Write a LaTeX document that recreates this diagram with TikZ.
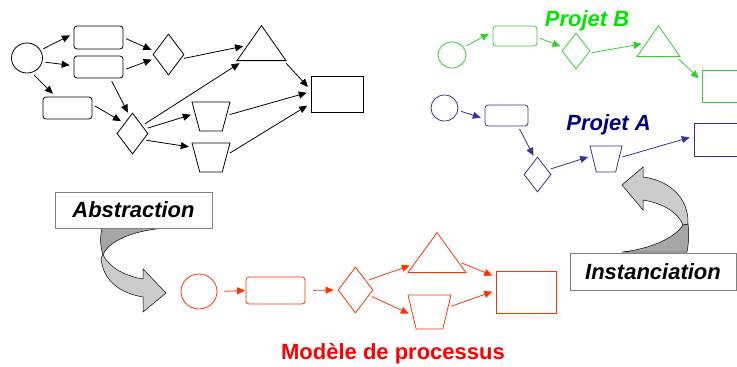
\documentclass[tikz,border=0pt]{standalone}
\usepackage{fontspec}
\setmainfont{Liberation Sans}
\usepackage{tikz}
\usetikzlibrary{shapes.geometric, arrows.meta}

\definecolor{projB}{HTML}{33CC33}
\definecolor{projBtxt}{HTML}{00E600}
\definecolor{projA}{HTML}{333399}
\definecolor{projAtxt}{HTML}{000080}
\definecolor{modele}{HTML}{FF3300}
\definecolor{modeletxt}{HTML}{FF0000}
\definecolor{lightgray}{HTML}{CCCCCC}
\definecolor{darkgray}{HTML}{A6A6A6}

\begin{document}
\begin{tikzpicture}[x=1pt, y=-1pt, line width=0.8pt,
  >={Triangle[length=8pt,width=7pt]},
  flow/.style={->, shorten <=3pt, shorten >=4pt},
  ell/.style={draw, ellipse, inner sep=0.5pt},
  rbox/.style={draw, rectangle, rounded corners=3pt, inner sep=0.5pt},
  sbox/.style={draw, rectangle, inner sep=0.5pt},
  dia/.style={draw, diamond, inner sep=0.5pt},
  tri/.style={draw, isosceles triangle, shape border rotate=90, isosceles triangle stretches, inner sep=0.5pt, anchor=lower side},
  trap/.style={draw, trapezium, shape border rotate=180, trapezium stretches=true, inner sep=0.5pt},
  lbl/.style={font=\fontsize{22}{26}\selectfont\bfseries\itshape},
  tag/.style={draw=gray, fill=white, line width=0.6pt, lbl}]

\useasboundingbox (0,0) rectangle (737,367);
\clip (0,0) rectangle (737,367);

% process in general
\node [ell, minimum width=31, minimum height=30] (A0) at (27,58) {};
\node [rbox, minimum width=49, minimum height=23] (A1) at (98.5,37.5) {};
\node [rbox, minimum width=49, minimum height=22] (A2) at (98.5,67) {};
\node [rbox, minimum width=49, minimum height=22] (A3) at (67.5,108) {};
\node [dia, minimum width=31, minimum height=41] (A4) at (168.5,54.5) {};
\node [dia, minimum width=31, minimum height=41] (A5) at (132.5,133.5) {};
\node [tri, minimum width=49, minimum height=35] (A6) at (261.5,61) {};
\node [trap, trapezium left angle=71, trapezium right angle=71, minimum width=38, minimum height=29] (A7) at (211,116.5) {};
\node [trap, trapezium left angle=71, trapezium right angle=71, minimum width=38, minimum height=29] (A8) at (211,157.5) {};
\node [sbox, minimum width=52, minimum height=36] (A9) at (337,94) {};

\draw (A0.30) edge[flow] (A1.171);
\draw (A0.-14) edge[flow] (A2.177);
\draw (A0.-72) edge[flow] (A3.136);
\draw (A1.east) edge[flow] (A4.167);
\draw (A2.-7) edge[flow] (A4.196);
\draw (A2.-44) edge[flow] (A5.99);
\draw (A3.8) edge[flow] (A5.128);
\draw (A4.-20) edge[flow] (A6.170);
\draw (A5.39) edge[flow] (A6.215);
\draw (A5.20) edge[flow] (A7.170);
\draw (A5.-30) edge[flow] (A8.151);
\draw (A6.-30) edge[flow] (A9.171);
\draw (A7.4) edge[flow] (A9.175);
\draw (A8.10) edge[flow] (A9.200);

% Projet B
\begin{scope}[color=projB, every node/.append style={draw=projB}]
\node [ell, minimum width=28, minimum height=26] (B0) at (452,55) {};
\node [rbox, minimum width=44, minimum height=20] (B1) at (515,36) {};
\node [dia, minimum width=28, minimum height=36] (B2) at (576,51) {};
\node [tri, minimum width=43, minimum height=31] (B3) at (658.5,57) {};
\node [sbox, minimum width=48, minimum height=32] (B4) at (726,86) {};
\draw (B0.33) edge[flow] (B1.169);
\draw (B1.-3) edge[flow] (B2.165);
\draw (B2.-10) edge[flow] (B3.170);
\draw (B3.-32) edge[flow] (B4.169);
\end{scope}
\node [lbl, text=projBtxt] (PB) at (587,21) {Projet B};

% Projet A
\begin{scope}[color=projA, every node/.append style={draw=projA}]
\node [ell, minimum width=27, minimum height=26] (C0) at (444.5,108) {};
\node [rbox, minimum width=43, minimum height=21] (C1) at (506.5,115.5) {};
\node [dia, minimum width=27, minimum height=35] (C2) at (537.5,174.5) {};
\node [trap, trapezium left angle=72, trapezium right angle=72, minimum width=32, minimum height=26] (C3) at (606,159) {};
\node [sbox, minimum width=52, minimum height=33] (C4) at (720,139.5) {};
\draw (C0.-10) edge[flow] (C1.189);
\draw (C1.-43) edge[flow] (C2.98);
\draw (C2.24) edge[flow] (C3.167);
\draw (C3.5) edge[flow] (C4.173);
\end{scope}
\node [lbl, text=projAtxt] (PA) at (608.5,124.5) {Projet A};

% modele de processus
\begin{scope}[color=modele, every node/.append style={draw=modele}]
\node [ell, minimum width=36, minimum height=35] (D0) at (199,291.5) {};
\node [rbox, minimum width=59, minimum height=27] (D1) at (275.5,290.5) {};
\node [dia, minimum width=35, minimum height=46] (D2) at (355.5,290) {};
\node [tri, minimum width=58, minimum height=40] (D3) at (437,273) {};
\node [trap, trapezium left angle=73, trapezium right angle=73, minimum width=43, minimum height=34] (D4) at (429.5,312) {};
\node [sbox, minimum width=60, minimum height=42] (D5) at (526.5,292.5) {};
\draw (D0.east) edge[flow, shorten <=7pt, shorten >=0.5pt] (D1.west);
\draw (D1.east) edge[flow, shorten <=8pt, shorten >=4pt] (D2.west);
\draw (D2.40) edge[flow] (D3.195);
\draw (D2.-21) edge[flow] (D4.191);
\draw (D3.-10) edge[flow] (D5.153);
\draw (D4.14) edge[flow] (D5.176);
\end{scope}
\node [font=\fontsize{22}{26}\selectfont\bfseries, text=modeletxt] (MP) at (393,354) {Modèle de processus};

% curved arrows
\draw[line width=0.5pt, fill=darkgray] (102,228) -- (165,228) .. controls (130,231) and (108,242) .. (103,255)
  .. controls (100,246) and (100,236) .. (102,228) -- cycle;
\draw[line width=0.5pt, fill=lightgray] (103,255) .. controls (110,268) and (125,276) .. (143,279)
  -- (143,269) -- (166,293) -- (143,312) -- (143,297)
  .. controls (120,293) and (103,281) .. (101,258) -- cycle;
\draw[line width=0.5pt, fill=darkgray] (622,252) -- (687,252) .. controls (689,242) and (689,232) .. (688,224)
  -- (683,225) .. controls (675,238) and (650,249) .. (622,252) -- cycle;
\draw[line width=0.5pt, fill=lightgray] (643,177) .. controls (668,180) and (689,197) .. (688,224)
  -- (683,225) .. controls (678,212) and (662,203) .. (643,200)
  -- (643,210) -- (622,185) -- (643,167) -- cycle;

\node [tag, minimum width=157, minimum height=36] (abs) at (133.5,210) {Abstraction};
\node [tag, minimum width=166, minimum height=37] (inst) at (653,271.5) {Instanciation};
\end{tikzpicture}
\end{document}
